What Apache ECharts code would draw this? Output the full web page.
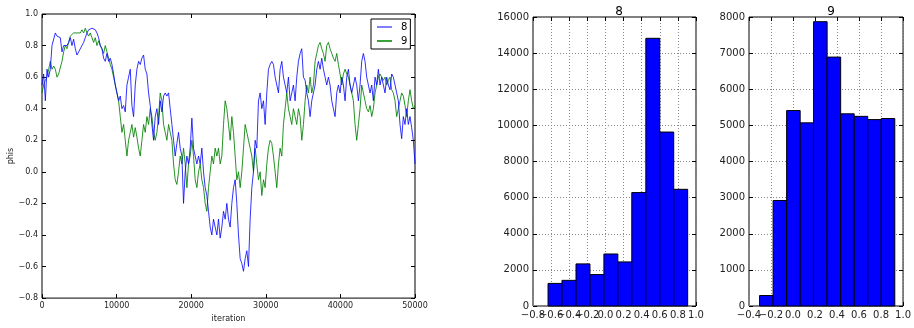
<!DOCTYPE html>
<html>
<head>
<meta charset="utf-8">
<script src="https://cdn.jsdelivr.net/npm/echarts@6/dist/echarts.min.js"></script>
<style>html,body{margin:0;padding:0;background:#fff}#c{width:914px;height:328px}</style>
</head>
<body>
<div id="c"></div>
<script>
// ---- data ----
const traceLastIteration = 50000;
const trace8 = [0.55,0.62,0.45,0.65,0.6,0.65,0.8,0.8,0.88,0.86,0.87,0.85,0.76,0.8,0.81,0.8,0.82,0.85,0.8,0.84,
0.78,0.74,0.76,0.75,0.8,0.82,0.85,0.88,0.9,0.9,0.91,0.91,0.9,0.88,0.85,0.8,0.78,0.72,0.7,0.75,
0.7,0.72,0.68,0.62,0.55,0.5,0.45,0.48,0.4,0.42,0.38,0.55,0.6,0.65,0.42,0.35,0.55,0.65,0.7,0.68,
0.72,0.74,0.65,0.62,0.5,0.42,0.3,0.2,0.35,0.4,0.3,0.45,0.38,0.48,0.5,0.48,0.5,0.4,0.3,0.2,
0.1,0.18,0.25,0.15,0.1,-0.2,0.0,0.1,0.05,0.15,0.34,0.15,0.1,0.05,0.1,0.05,0.15,0.0,-0.1,-0.15,
-0.25,-0.35,-0.4,-0.3,-0.35,-0.4,-0.3,-0.42,-0.35,-0.25,-0.3,-0.2,-0.3,-0.35,-0.2,-0.1,-0.05,-0.2,-0.4,-0.55,
-0.58,-0.63,-0.55,-0.5,-0.6,-0.3,-0.1,0.0,0.2,0.15,0.45,0.5,0.4,0.45,0.3,0.5,0.65,0.68,0.7,0.68,
0.6,0.55,0.5,0.65,0.7,0.6,0.55,0.5,0.6,0.45,0.5,0.55,0.45,0.6,0.7,0.75,0.78,0.6,0.58,0.5,
0.45,0.35,0.45,0.5,0.55,0.65,0.7,0.65,0.72,0.65,0.6,0.55,0.6,0.55,0.45,0.4,0.35,0.5,0.55,0.5,
0.6,0.55,0.45,0.6,0.65,0.55,0.5,0.55,0.6,0.55,0.45,0.55,0.7,0.75,0.7,0.6,0.55,0.5,0.55,0.45,
0.6,0.55,0.65,0.55,0.6,0.55,0.5,0.6,0.55,0.52,0.62,0.6,0.55,0.5,0.45,0.3,0.21,0.35,0.3,0.4,
0.3,0.35,0.28,0.2,0.05];
const trace9 = [0.5,0.55,0.58,0.6,0.65,0.7,0.65,0.67,0.65,0.6,0.62,0.62,0.7,0.76,0.8,0.78,0.82,0.86,0.85,0.88,
0.87,0.88,0.87,0.88,0.9,0.88,0.91,0.88,0.86,0.88,0.85,0.82,0.85,0.8,0.83,0.8,0.78,0.75,0.8,0.76,
0.72,0.68,0.65,0.6,0.55,0.5,0.45,0.35,0.25,0.3,0.2,0.1,0.2,0.25,0.3,0.22,0.28,0.22,0.15,0.1,
0.2,0.3,0.25,0.35,0.3,0.4,0.35,0.25,0.2,0.25,0.35,0.5,0.45,0.3,0.25,0.2,0.3,0.25,0.2,0.05,
-0.05,-0.08,0.0,0.1,0.05,0.15,0.05,-0.1,0.05,0.1,0.2,0.1,-0.05,-0.1,0.0,0.05,-0.05,-0.1,-0.2,-0.25,
-0.1,0.0,0.1,0.05,0.15,0.1,0.15,0.05,0.1,0.3,0.45,0.4,0.3,0.2,0.35,0.25,0.1,-0.05,0.0,-0.1,
0.0,0.15,0.3,0.25,0.2,0.15,0.1,0.0,0.15,0.05,-0.05,0.0,-0.15,-0.05,-0.1,0.05,0.15,0.2,0.18,0.1,
0.0,-0.1,0.05,0.15,0.1,0.3,0.4,0.5,0.4,0.35,0.3,0.4,0.35,0.3,0.4,0.35,0.2,0.3,0.45,0.55,
0.5,0.6,0.5,0.55,0.7,0.75,0.8,0.82,0.78,0.75,0.7,0.8,0.82,0.78,0.75,0.72,0.7,0.75,0.68,0.62,
0.55,0.62,0.65,0.62,0.6,0.55,0.5,0.45,0.3,0.2,0.3,0.4,0.55,0.5,0.45,0.4,0.38,0.42,0.35,0.4,
0.5,0.55,0.6,0.62,0.6,0.58,0.6,0.55,0.58,0.6,0.52,0.5,0.45,0.35,0.4,0.45,0.5,0.48,0.42,0.35,
0.45,0.52,0.45,0.4,0.42];

const hist8Edges = [-0.634,-0.480,-0.325,-0.171,-0.017,0.137,0.291,0.446,0.600,0.754,0.908];
const hist8Counts = [1250,1420,2330,1740,2880,2440,6280,14820,9630,6460];
const hist9Edges = [-0.304,-0.181,-0.058,0.065,0.187,0.310,0.433,0.556,0.679,0.802,0.925];
const hist9Counts = [290,2920,5410,5070,7870,6890,5320,5250,5160,5190];

const seriesNames = ['8','9'];
const traceXTicks = {min:0, max:50000, interval:10000};
const traceYTicks = {min:-0.8, max:1.0, interval:0.2};
const hist8XTicks = {min:-0.8, max:1.0, interval:0.2};
const hist8YTicks = {min:0, max:16000, interval:2000};
const hist9XTicks = {min:-0.4, max:1.0, interval:0.2};
const hist9YTicks = {min:0, max:8000, interval:1000};

// ---- build ----
const FONT = 'DejaVu Sans';
function dec(v){ const s = Math.abs(v).toFixed(1); return (v < -1e-9 ? '\u2212' : '') + s; }
function traceData(arr){ const step = traceLastIteration/(arr.length-1); return arr.map((v,i)=>[i*step, v]); }
function histData(edges, counts){ return counts.map((c,i)=>[edges[i], edges[i+1], c]); }

const grids = [
  {left:42, top:14, width:373, height:292},
  {left:533, top:17, width:163, height:289},
  {left:749, top:17, width:155, height:289}
];
grids.forEach(g=>{ g.show = true; g.borderColor = '#000'; g.borderWidth = 1; g.backgroundColor = 'transparent'; g.containLabel = false; });

function mkAxis(type, gi, t, opts){
  const fs = opts.fs;
  const base = {
    type:'value', gridIndex:gi, min:t.min, max:t.max, interval:t.interval,
    axisLine:{show:false, onZero:false},
    axisTick:{show:!opts.labelOnly, inside:true, length:4, lineStyle:{color:'#000', width:1}},
    splitLine:{show:!!opts.grid, lineStyle:{color:'#888', type:[1,2], width:1}},
    axisLabel:{show:!opts.mirror, color:'#222', fontFamily:FONT, fontSize:fs, margin:opts.margin||4,
      showMinLabel:opts.minLabel !== undefined ? opts.minLabel : true, showMaxLabel:true, hideOverlap:false, formatter:opts.fmt},
    position: opts.position
  };
  if (opts.name) Object.assign(base, opts.name);
  return base;
}
// the lowest tick label of a histogram is drawn by a helper axis, so that the library keeps its crowded neighbour
function onlyMin(t){ return v => Math.abs(v - t.min) < 1e-9 ? dec(v) : ''; }

const xAxes = [
  mkAxis('x',0,traceXTicks,{fs:8, fmt:v=>String(v), margin:4, position:'bottom',
     name:{name:'iteration', nameLocation:'middle', nameGap:13, nameTextStyle:{fontFamily:FONT, fontSize:8, color:'#222'}}}),
  mkAxis('x',0,traceXTicks,{fs:8, mirror:true, position:'top'}),
  mkAxis('x',1,hist8XTicks,{fs:10, fmt:dec, grid:true, position:'bottom', margin:4, minLabel:false}),
  mkAxis('x',1,hist8XTicks,{fs:10, mirror:true, position:'top'}),
  mkAxis('x',2,hist9XTicks,{fs:10, fmt:dec, grid:true, position:'bottom', margin:4, minLabel:false}),
  mkAxis('x',2,hist9XTicks,{fs:10, mirror:true, position:'top'}),
  mkAxis('x',1,hist8XTicks,{fs:10, fmt:onlyMin(hist8XTicks), position:'bottom', margin:4, labelOnly:true}),
  mkAxis('x',2,hist9XTicks,{fs:10, fmt:onlyMin(hist9XTicks), position:'bottom', margin:4, labelOnly:true})
];
const yAxes = [
  mkAxis('y',0,traceYTicks,{fs:8, fmt:dec, position:'left', margin:4,
     name:{name:'phis', nameLocation:'middle', nameGap:26, nameTextStyle:{fontFamily:FONT, fontSize:8, color:'#222'}}}),
  mkAxis('y',0,traceYTicks,{fs:8, mirror:true, position:'right'}),
  mkAxis('y',1,hist8YTicks,{fs:10, fmt:v=>String(v), grid:true, position:'left', margin:4}),
  mkAxis('y',1,hist8YTicks,{fs:10, mirror:true, position:'right'}),
  mkAxis('y',2,hist9YTicks,{fs:10, fmt:v=>String(v), grid:true, position:'left', margin:4}),
  mkAxis('y',2,hist9YTicks,{fs:10, mirror:true, position:'right'})
];

function histRender(params, api){
  const p0 = api.coord([api.value(0), api.value(2)]);
  const p1 = api.coord([api.value(1), 0]);
  return {type:'rect', shape:{x:p0[0], y:p0[1], width:p1[0]-p0[0], height:p1[1]-p0[1]},
    style:{fill:'#0000ff', stroke:'#000', lineWidth:1}};
}

const option = {
  animation:false,
  backgroundColor:'#fff',
  textStyle:{fontFamily:FONT},
  title:[
    {text:'8', left:614, top:1, textAlign:'center', textStyle:{fontFamily:FONT, fontSize:12, fontWeight:'normal', color:'#000'}},
    {text:'9', left:826, top:1, textAlign:'center', textStyle:{fontFamily:FONT, fontSize:12, fontWeight:'normal', color:'#000'}}
  ],
  legend:{
    data:seriesNames, orient:'vertical', left:371, top:19,
    icon:'rect', itemWidth:15, itemHeight:2, itemGap:2,
    padding:[2,3,2,6], borderColor:'#000', borderWidth:1, backgroundColor:'#fff',
    textStyle:{fontFamily:FONT, fontSize:10, color:'#000', lineHeight:12, padding:[0,0,0,4]}
  },
  grid:grids,
  xAxis:xAxes,
  yAxis:yAxes,
  series:[
    {name:seriesNames[0], type:'line', xAxisIndex:0, yAxisIndex:0, data:traceData(trace8), showSymbol:false, symbol:'none',
     lineStyle:{color:'#0000ff', width:1, opacity:0.8}, itemStyle:{color:'#8080ff'}, z:3},
    {name:seriesNames[1], type:'line', xAxisIndex:0, yAxisIndex:0, data:traceData(trace9), showSymbol:false, symbol:'none',
     lineStyle:{color:'#008000', width:1, opacity:0.85}, itemStyle:{color:'#3aa03a'}, z:2},
    {type:'custom', xAxisIndex:2, yAxisIndex:2, data:histData(hist8Edges,hist8Counts), renderItem:histRender, encode:{x:[0,1], y:2}, z:3},
    {type:'custom', xAxisIndex:4, yAxisIndex:4, data:histData(hist9Edges,hist9Counts), renderItem:histRender, encode:{x:[0,1], y:2}, z:3}
  ]
};
const chart = echarts.init(document.getElementById('c'), null, {renderer:'canvas'});
chart.setOption(option);
</script>
</body>
</html>
